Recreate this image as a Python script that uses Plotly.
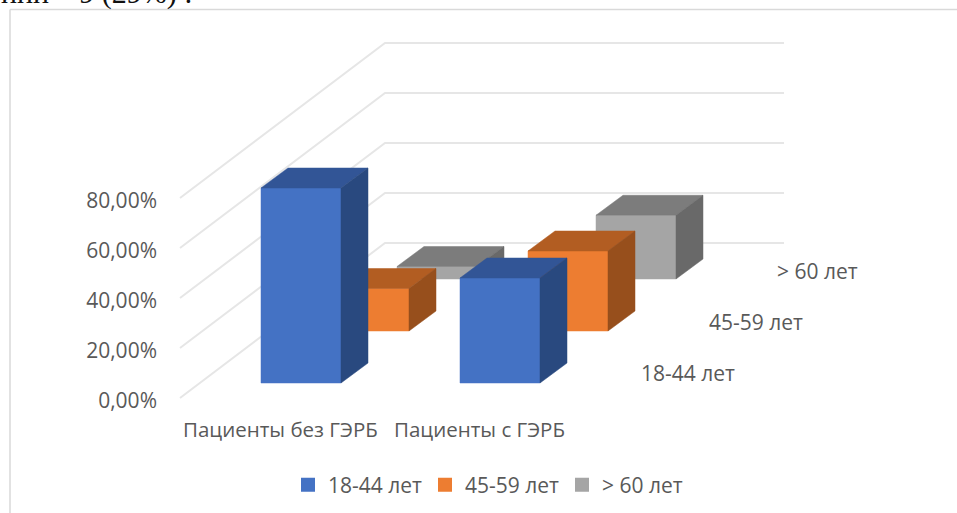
import plotly.graph_objects as go

categories = ["Пациенты без ГЭРБ", "Пациенты с ГЭРБ"]
series_names = ["18-44 лет", "45-59 лет", "> 60 лет"]
values_18_44 = [78.0, 42.0]
values_45_59 = [17.0, 32.0]
values_60 = [5.0, 25.5]
tick_values = [0, 20, 40, 60, 80]
tick_labels = ["0,00%", "20,00%", "40,00%", "60,00%", "80,00%"]

W, H = 957, 513
FONT = "Open Sans"
TXT = "#595959"
SCALE = 2.5          # pixels per percentage point
ZERO_PX = 401        # pixel row of value 0 on the axis


def vy(px_offset):
    """Convert a pixel rise to value units."""
    return px_offset / SCALE


BAR_W = 80
DEPTH_X, DEPTH_Y = 27, vy(20)
ROW_DX, ROW_DY = 68, vy(52)
GROUP_DX = 199
FIRST_BAR_X = 261
FLOOR = vy(18)       # floor height of the front row

styles = [
    dict(front="#4472C4", top="#325596", side="#29497F"),
    dict(front="#ED7D31", top="#B25D22", side="#974F1C"),
    dict(front="#A5A5A5", top="#7C7C7C", side="#696969"),
]
all_values = [values_18_44, values_45_59, values_60]

fig = go.Figure()

# walls / gridlines
WALL_X0, WALL_X1, WALL_X2 = 180, 385, 784
WALL_RISE = vy(155)
WALL_BASE = vy(3)
for t in tick_values:
    y0 = t + WALL_BASE
    fig.add_trace(go.Scatter(
        x=[WALL_X0, WALL_X1, WALL_X2], y=[y0, y0 + WALL_RISE, y0 + WALL_RISE],
        mode="lines", line=dict(color="#E6E6E6", width=2),
        showlegend=False, hoverinfo="skip"))


def face(xs, ys, color):
    fig.add_trace(go.Scatter(
        x=xs, y=ys, mode="lines", fill="toself", fillcolor=color,
        line=dict(color=color, width=0.5), showlegend=False, hoverinfo="skip"))


for row in (2, 1, 0):
    for cat, v in enumerate(all_values[row]):
        x0 = FIRST_BAR_X + cat * GROUP_DX + row * ROW_DX
        x1 = x0 + BAR_W
        b = FLOOR + row * ROW_DY
        t = b + v
        s = styles[row]
        face([x0, x1, x1, x0, x0], [b, b, t, t, b], s["front"])
        face([x0, x1, x1 + DEPTH_X, x0 + DEPTH_X, x0],
             [t, t, t + DEPTH_Y, t + DEPTH_Y, t], s["top"])
        face([x1, x1 + DEPTH_X, x1 + DEPTH_X, x1, x1],
             [b, b + DEPTH_Y, t + DEPTH_Y, t, b], s["side"])

# legend entries
for name, s in zip(series_names, styles):
    fig.add_trace(go.Scatter(
        x=[None], y=[None], mode="markers", name=name,
        marker=dict(symbol="square", size=14, color=s["front"])))

annotations = []
for c, cx in zip(categories, (280.5, 479)):
    annotations.append(dict(
        x=cx, y=vy(ZERO_PX - 429), xref="x", yref="y", text=c,
        showarrow=False, xanchor="center", yanchor="middle",
        font=dict(family=FONT, size=20.5, color=TXT)))
for i, n in enumerate(series_names):
    annotations.append(dict(
        x=639 + i * 68, y=vy(ZERO_PX - 373 + i * 51), xref="x", yref="y", text=n,
        showarrow=False, xanchor="left", yanchor="middle",
        font=dict(family=FONT, size=21, color=TXT)))
annotations.append(dict(
    x=0, y=1 - 12 / H, xref="paper", yref="paper", text="ини – 9 (29%) :",
    showarrow=False, xanchor="left", yanchor="bottom", xshift=-1,
    font=dict(family="Liberation Serif", size=30, color="#111111")))

fig.update_layout(
    width=W, height=H,
    margin=dict(l=0, r=0, t=0, b=0),
    paper_bgcolor="white", plot_bgcolor="white",
    font=dict(family=FONT, size=20, color=TXT),
    xaxis=dict(range=[0, W], domain=[0, 1], visible=False, fixedrange=True),
    yaxis=dict(
        range=[vy(ZERO_PX - H), vy(ZERO_PX)],
        anchor="free", position=157 / W,
        tickvals=tick_values, ticktext=tick_labels,
        showgrid=False, zeroline=False, showline=False, ticks="",
        tickfont=dict(family=FONT, size=21, color=TXT), fixedrange=True),
    legend=dict(
        orientation="h", x=288 / W, xanchor="left", y=1 - 485 / H, yanchor="middle",
        font=dict(family=FONT, size=21, color=TXT),
        entrywidth=92, entrywidthmode="pixels", bgcolor="rgba(0,0,0,0)"),
    shapes=[
        dict(type="line", xref="paper", yref="paper", x0=10 / W, x1=10 / W, y0=0, y1=1 - 9.5 / H,
             line=dict(color="#D9D9D9", width=1.5)),
        dict(type="line", xref="paper", yref="paper", x0=10 / W, x1=1, y0=1 - 9.5 / H, y1=1 - 9.5 / H,
             line=dict(color="#D9D9D9", width=1.5)),
    ],
    annotations=annotations,
)

fig.write_html(
    "out.html",
    config={"displayModeBar": False},
    post_script="document.body.style.margin='0';document.body.style.overflow='hidden';",
)
